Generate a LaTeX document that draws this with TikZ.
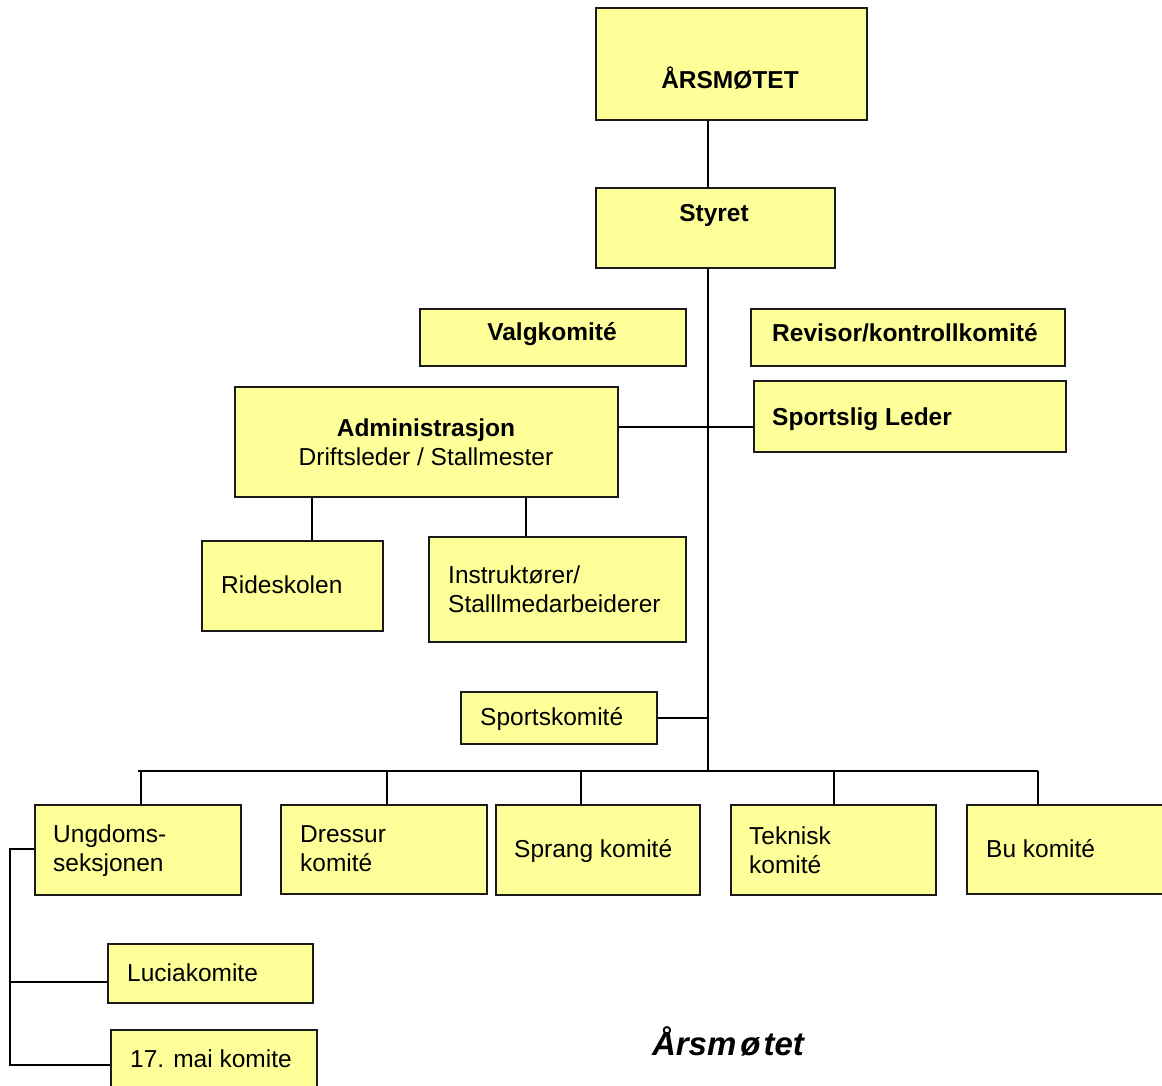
\documentclass[tikz,border=0pt]{standalone}
\usepackage{fontspec}
\setmainfont{Liberation Sans}
\definecolor{boxfill}{HTML}{FFFF99}
\definecolor{boxline}{HTML}{1A1A1A}
\tikzset{
  box/.style={draw=boxline, line width=2pt, fill=boxfill, inner sep=0pt, anchor=north west},
  txt/.style={inner sep=0pt, font=\fontsize{24.5}{29}\selectfont},
  btxt/.style={inner sep=0pt, font=\fontsize{24.5}{29}\selectfont\bfseries},
  conn/.style={draw=black, line width=2pt}
}
\begin{document}
\begin{tikzpicture}[x=1pt,y=-1pt]
\clip (0,0) rectangle (1162,1086);
\useasboundingbox (0,0) rectangle (1162,1086);
% boxes
\node[box, minimum width=271pt, minimum height=112pt] (ars) at (595,7) {};
\node[box, minimum width=239pt, minimum height=80pt] (sty) at (595,187) {};
\node[box, minimum width=266pt, minimum height=57pt] (valg) at (419,308) {};
\node[box, minimum width=314pt, minimum height=57pt] (rev) at (750,308) {};
\node[box, minimum width=312pt, minimum height=71pt] (sport) at (753,380) {};
\node[box, minimum width=383pt, minimum height=110pt] (adm) at (234,386) {};
\node[box, minimum width=181pt, minimum height=90pt] (ride) at (201,540) {};
\node[box, minimum width=257pt, minimum height=105pt] (instr) at (428,536) {};
\node[box, minimum width=196pt, minimum height=52pt] (spk) at (460,691) {};
\node[box, minimum width=206pt, minimum height=90pt] (ung) at (34,804) {};
\node[box, minimum width=206pt, minimum height=89pt] (dres) at (280,804) {};
\node[box, minimum width=204pt, minimum height=90pt] (spr) at (495,804) {};
\node[box, minimum width=205pt, minimum height=90pt] (tek) at (730,804) {};
\node[box, minimum width=206pt, minimum height=89pt] (bu) at (966,804) {};
\node[box, minimum width=205pt, minimum height=59pt] (luc) at (107,943) {};
\node[box, minimum width=206pt, minimum height=60pt] (mai) at (110,1029) {};
% helper coordinates
\coordinate (bus) at (708,771);
\coordinate (busL) at (138,771);
\coordinate (busR) at (1038,771);
\coordinate (d1) at (141,771);
\coordinate (d2) at (387,771);
\coordinate (d3) at (581,771);
\coordinate (d4) at (834,771);
\coordinate (hl) at (0,427);
\coordinate (a1) at (312,0);
\coordinate (a2) at (526,0);
\coordinate (tl) at (10,849);
\coordinate (tm) at (10,982);
\coordinate (tb) at (10,1065);
% connectors
\draw[conn] (ars.south -| bus) -- (sty.north -| bus);
\draw[conn] (sty.south -| bus) -- (bus);
\draw[conn] (adm.east |- hl) -- (sport.west |- hl);
\draw[conn] (spk.east) -- (spk.east -| bus);
\draw[conn] (busL) -- (busR);
\draw[conn] (d1) -- (ung.north -| d1);
\draw[conn] (d2) -- (dres.north -| d2);
\draw[conn] (d3) -- (spr.north -| d3);
\draw[conn] (d4) -- (tek.north -| d4);
\draw[conn] (busR) -- (bu.north -| busR);
\draw[conn] (adm.south -| a1) -- (ride.north -| a1);
\draw[conn] (adm.south -| a2) -- (instr.north -| a2);
\draw[conn] (ung.west |- tl) -- (tl) -- (tb) -- (mai.west |- tb);
\draw[conn] (tm) -- (luc.west |- tm);
% texts
\node[btxt] (t-ars) at (730,78) {ÅRSMØTET};
\node[btxt] (t-sty) at (714,215) {Styret};
\node[btxt] (t-valg) at (552,334) {Valgkomité};
\node[btxt, anchor=base west] (t-rev) at (772,341) {Revisor/kontrollkomité};
\node[btxt, anchor=base west] (t-sport) at (772,425) {Sportslig Leder};
\node[txt, align=center] (t-adm) at (426,442) {\textbf{Administrasjon}\\Driftsleder / Stallmester};
\node[txt, anchor=base west] (t-ride) at (221,593) {Rideskolen};
\node[txt, anchor=west, align=left] (t-instr) at (448,589) {Instruktører/\\Stalllmedarbeiderer};
\node[txt, anchor=base west] (t-spk) at (480,725) {Sportskomité};
\node[txt, anchor=west, align=left] (t-ung) at (53,851) {Ungdoms-\\seksjonen};
\node[txt, anchor=west, align=left] (t-dres) at (300,849) {Dressur\\komité};
\node[txt, anchor=base west] (t-spr) at (514,857) {Sprang komité};
\node[txt, anchor=west, align=left] (t-tek) at (749,850) {Teknisk\\komité};
\node[txt, anchor=base west] (t-bu) at (986,857) {Bu komité};
\node[txt, anchor=base west] (t-luc) at (127,981) {Luciakomite};
\node[txt, anchor=base west] (t-mai) at (130,1067) {17. mai komite};
\node[inner sep=0pt, anchor=base, font=\fontsize{33}{38}\selectfont\bfseries\itshape] (title) at (728,1055) {Årsm\kern4ptø\kern3pttet};
\end{tikzpicture}
\end{document}
